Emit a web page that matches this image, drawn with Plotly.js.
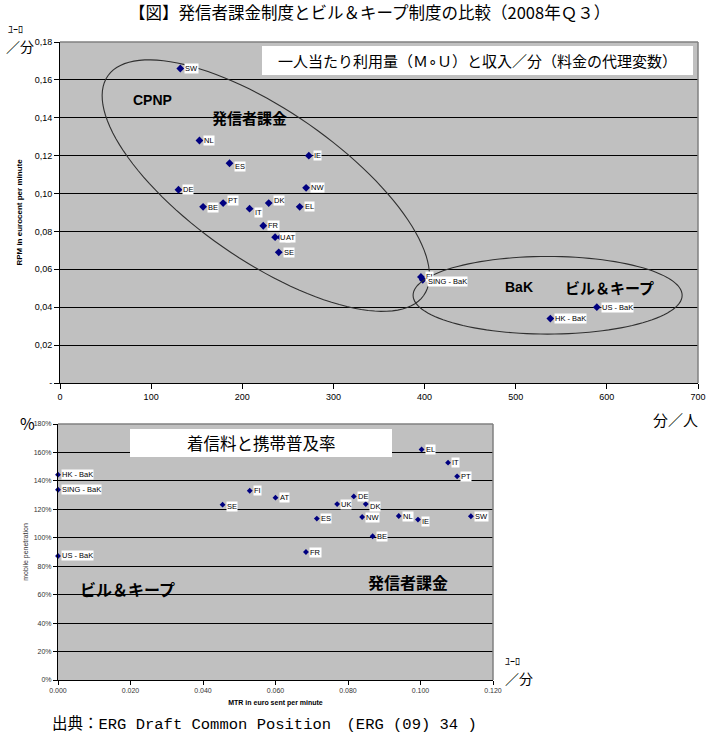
<!DOCTYPE html>
<html><head><meta charset="utf-8">
<script src="https://cdn.plot.ly/plotly-3.0.1.min.js"></script>
<style>html,body{margin:0;padding:0;background:#fff}</style>
</head><body><div id="chart" style="width:708px;height:737px"></div>
<script>
// ---- Top chart: minutes of use per person vs revenue per minute ----
const topLabels = ['SW','NL','ES','IE','NW','DE','BE','PT','IT','DK','EL','FR','UK','AT','SE','FI','SING - BaK','US - BaK','HK - BaK'];
const topMoU    = [132,153,186,273,270,130,157,179,208,229,263,223,236,242,240,396,398,589,538];
const topRPM    = [0.166,0.128,0.116,0.120,0.103,0.102,0.093,0.095,0.092,0.095,0.093,0.083,0.077,0.077,0.069,0.056,0.0545,0.040,0.034];
const topXTicks = [0,100,200,300,400,500,600,700];
const topYTicks = [0,0.02,0.04,0.06,0.08,0.10,0.12,0.14,0.16,0.18];
const topYText  = ['-','0,02','0,04','0,06','0,08','0,10','0,12','0,14','0,16','0,18'];

// ---- Bottom chart: mobile termination rate vs mobile penetration ----
const botLabels = ['HK - BaK','SING - BaK','US - BaK','SE','FI','AT','FR','ES','UK','DE','DK','NW','BE','NL','IE','SW','EL','IT','PT'];
const botMTR    = [0,0,0,0.0454,0.0529,0.0600,0.0684,0.0714,0.0770,0.0816,0.0849,0.0839,0.0868,0.0940,0.0993,0.1139,0.1003,0.1076,0.1101];
const botPen    = [144.4,133.8,87.2,123.3,133.1,128.2,90.0,113.5,123.7,129.1,123.7,114.6,101.1,115.3,112.8,115.1,162.1,152.8,143.2];
const botXTicks = [0,0.02,0.04,0.06,0.08,0.10,0.12];
const botXText  = ['0.000','0.020','0.040','0.060','0.080','0.100','0.120'];
const botYTicks = [0,20,40,60,80,100,120,140,160,180];
const botYText  = ['0%','20%','40%','60%','80%','100%','120%','140%','160%','180%'];

const W = 708, H = 737;
const px = x => x / W, py = y => 1 - y / H;
const JP = '"Noto Sans CJK JP", sans-serif';
const LS = '"Liberation Sans", Arial, sans-serif';
const NAVY = '#000080';

// ellipse outline (data units): centre c, semi-axis vectors a and b
function ellipsePath(c, a, b) {
  let d = '';
  for (let i = 0; i <= 120; i++) {
    const t = 2 * Math.PI * i / 120;
    const x = c[0] + a[0] * Math.cos(t) + b[0] * Math.sin(t);
    const y = c[1] + a[1] * Math.cos(t) + b[1] * Math.sin(t);
    d += (i ? 'L' : 'M') + x.toFixed(3) + ',' + y.toFixed(5);
  }
  return d + 'Z';
}

const traces = [
  {x: topMoU, y: topRPM, type: 'scatter', mode: 'markers', xaxis: 'x', yaxis: 'y',
   marker: {symbol: 'diamond', size: 6, color: NAVY}, cliponaxis: false, hoverinfo: 'text', text: topLabels},
  {x: botMTR, y: botPen, type: 'scatter', mode: 'markers', xaxis: 'x2', yaxis: 'y2',
   marker: {symbol: 'diamond', size: 4.5, color: NAVY}, cliponaxis: false, hoverinfo: 'text', text: botLabels}
];

const labelShiftTop = {'IT': -4, 'BE': -1, 'ES': -3, 'PT': 3, 'DK': 3, 'SING - BaK': -2, 'FR': 0};
const labelShiftBot = {'IE': -2, 'DK': -2, 'SE': -2};
const annotations = [];
topLabels.forEach((t, i) => annotations.push({
  x: topMoU[i], y: topRPM[i], xref: 'x', yref: 'y', text: t, showarrow: false,
  xanchor: 'left', yanchor: 'middle', xshift: 4, yshift: labelShiftTop[t] || 0,
  bgcolor: '#ffffff', borderpad: 0, font: {family: LS, size: 7.5, color: '#000'}
}));
botLabels.forEach((t, i) => annotations.push({
  x: botMTR[i], y: botPen[i], xref: 'x2', yref: 'y2', text: t, showarrow: false,
  xanchor: 'left', yanchor: 'middle', xshift: 3, yshift: labelShiftBot[t] || 0,
  bgcolor: '#ffffff', borderpad: 0, font: {family: LS, size: 7.5, color: '#000'}
}));

function txt(text, x, y, size, opts) {
  return Object.assign({text, x: px(x), y: py(y), xref: 'paper', yref: 'paper', showarrow: false,
    xanchor: 'left', yanchor: 'middle', font: {family: JP, size, color: '#000'}}, opts || {});
}
annotations.push(
  txt('ﾕｰﾛ', 6, 28, 10),
  txt('／分', 4, 46, 14),
  txt('一人当たり利用量（Ｍ∘Ｕ）と収入／分（料金の代理変数）', 477, 61, 15,
      {xanchor: 'center', bgcolor: '#ffffff', borderpad: 0}),
  txt('<b>CPNP</b>', 131, 100, 14, {font: {family: LS, size: 14, color: '#000'}}),
  txt('<b>発信者課金</b>', 210, 117, 15),
  txt('<b>BaK</b>', 503, 287, 14, {font: {family: LS, size: 14, color: '#000'}}),
  txt('<b>ビル＆キープ</b>', 563, 287, 15),
  txt('分／人', 700, 419, 15, {xanchor: 'right'}),
  txt('%', 18, 423, 16),
  txt('<b>ビル＆キープ</b>', 78, 589, 16),
  txt('<b>発信者課金</b>', 366, 582, 16),
  txt('ﾕｰﾛ', 503, 660, 10),
  txt('／分', 503, 678, 14),
  txt('出典：ERG Draft Common Position　(ERG (09) 34 )', 50, 724, 16,
      {font: {family: '"Liberation Mono", "Noto Sans CJK JP", monospace', size: 15.5, color: '#000'}})
);
// heading of lower chart
annotations.push(txt('着信料と携帯普及率', 261, 443, 16.5,
  {xanchor: 'center', bgcolor: '#ffffff', borderpad: 0}));

const shapes = [
  {type: 'path', xref: 'x', yref: 'y', layer: 'above',
   path: ellipsePath([225.8, 0.1042], [173.2, -0.0580], [-47.4, -0.0323]),
   line: {color: '#303030', width: 1.1}},
  {type: 'path', xref: 'x', yref: 'y', layer: 'above',
   path: ellipsePath([535, 0.0463], [147.6, 0], [0, 0.0205]),
   line: {color: '#303030', width: 1.1}},
  // white box behind lower-chart heading
  {type: 'rect', xref: 'paper', yref: 'paper', x0: px(130), x1: px(392), y0: py(457), y1: py(429),
   fillcolor: '#ffffff', line: {width: 0}, layer: 'above'},
  // white box behind upper-chart heading
  {type: 'rect', xref: 'paper', yref: 'paper', x0: px(262), x1: px(693), y0: py(75), y1: py(46),
   fillcolor: '#ffffff', line: {width: 0}, layer: 'above'},
  // grey plot-area borders (top and right)
  {type: 'line', xref: 'x domain', yref: 'y domain', x0: 0, x1: 1, y0: 1, y1: 1, line: {color: '#808080', width: 1.5}, layer: 'above'},
  {type: 'line', xref: 'x domain', yref: 'y domain', x0: 1, x1: 1, y0: 0, y1: 1, line: {color: '#808080', width: 1.5}, layer: 'above'},
  {type: 'line', xref: 'x2 domain', yref: 'y2 domain', x0: 0, x1: 1, y0: 1, y1: 1, line: {color: '#808080', width: 1.5}, layer: 'above'},
  {type: 'line', xref: 'x2 domain', yref: 'y2 domain', x0: 1, x1: 1, y0: 0, y1: 1, line: {color: '#808080', width: 1.5}, layer: 'above'}
];

const axisCommon = {ticks: 'outside', ticklen: 5, tickcolor: '#000', showline: true, linecolor: '#000',
  linewidth: 1, zeroline: false, gridcolor: '#000', gridwidth: 1, fixedrange: true};

const layout = {
  width: W, height: H, margin: {l: 0, r: 0, t: 0, b: 0},
  paper_bgcolor: '#ffffff', plot_bgcolor: '#c0c0c0', showlegend: false,
  title: {text: '【図】発信者課金制度とビル＆キープ制度の比較（2008年Ｑ３）', x: 0.522, y: py(13),
          xanchor: 'center', yanchor: 'middle', font: {family: JP, size: 16.5, color: '#000'}},
  xaxis: Object.assign({}, axisCommon, {domain: [px(60), px(698)], range: [0, 700], anchor: 'y',
    tickvals: topXTicks, showgrid: false, tickfont: {family: LS, size: 9, color: '#000'}}),
  yaxis: Object.assign({}, axisCommon, {domain: [py(383), py(42)], range: [0, 0.18], anchor: 'x',
    tickvals: topYTicks, ticktext: topYText, tickfont: {family: LS, size: 9, color: '#000'},
    title: {text: '<b>RPM in eurocent per minute</b>', standoff: 10, font: {family: LS, size: 8, color: '#000'}}}),
  xaxis2: Object.assign({}, axisCommon, {domain: [px(58), px(493)], range: [0, 0.12], anchor: 'y2',
    tickvals: botXTicks, ticktext: botXText, showgrid: false, ticklen: 4, tickfont: {family: LS, size: 7, color: '#333'},
    title: {text: '<b>MTR in euro sent per minute</b>', standoff: 6, font: {family: LS, size: 7, color: '#000'}}}),
  yaxis2: Object.assign({}, axisCommon, {domain: [py(680), py(424)], range: [0, 180], anchor: 'x2',
    tickvals: botYTicks, ticktext: botYText, ticklen: 4, tickfont: {family: LS, size: 7, color: '#333'},
    title: {text: 'mobile penetration', standoff: 4, font: {family: LS, size: 7, color: '#333'}}}),
  annotations, shapes
};

Plotly.newPlot('chart', traces, layout, {displayModeBar: false, staticPlot: true});
</script>
</body></html>
